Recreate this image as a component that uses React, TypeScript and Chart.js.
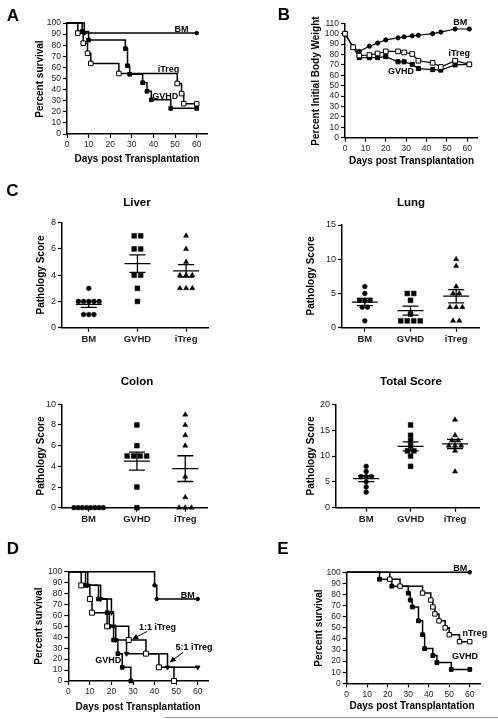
import React, { useEffect, useRef } from "react";
import { Chart, registerables } from "chart.js";
Chart.register(...registerables);

const FONT = "'Liberation Sans', Arial, Helvetica, sans-serif";
const PAGE_W = 498;
const PAGE_H = 719;

// ---------- Panel A : survival ----------
const A_BM_DAYS = [0, 8, 60];
const A_BM_SURV = [100, 90.9, 90.9];
const A_GVHD_DAYS = [0, 7, 10, 27, 28, 29, 35, 37, 39, 48, 60];
const A_GVHD_SURV = [100, 92.3, 84.6, 76.9, 61.5, 53.8, 46.2, 38.5, 30.8, 23.1, 23.1];
const A_ITREG_DAYS = [0, 5, 7.5, 9.5, 11, 24, 51, 53, 54, 60];
const A_ITREG_SURV = [100, 90.9, 81.8, 72.7, 63.6, 54.5, 45.5, 36.4, 27.3, 27.3];

// ---------- Panel B : body weight ----------
const B_DAYS = [0, 4, 7, 12, 16, 20, 26, 29, 33, 36, 43, 47, 54, 61];
const B_BM = [100, 87, 83, 88, 91, 94, 96, 97, 98, 98.5, 100, 101.5, 104.5, 104.5];
const B_GVHD = [100, 87, 77, 77, 77, 78, 73, 73, 70.5, 66.5, 65.5, 65, 70, 70.5];
const B_ITREG = [100, 87, 79, 79.5, 81, 83, 83, 82, 80.5, 74, 72, 68, 74, 70.5];

// ---------- Panel C : pathology scores ----------
const GROUPS = ["BM", "GVHD", "iTreg"];
const LIVER_BM = [3, 2, 2, 2, 2, 2, 1, 1, 1];
const LIVER_GVHD = [7, 7, 6, 6, 4, 4, 3, 2];
const LIVER_ITREG = [7, 6, 5, 4, 4, 4, 3, 3, 3];
const LUNG_BM = [6, 5, 4, 4, 4, 3, 3, 1];
const LUNG_GVHD = [5, 5, 4, 2, 1, 1, 1, 1];
const LUNG_ITREG = [10, 9, 6, 5, 5, 3, 3, 3, 1, 1];
const COLON_BM = [0, 0, 0, 0, 0, 0, 0, 0];
const COLON_GVHD = [8, 6, 5, 5, 5, 5, 2, 0];
const COLON_ITREG = [9, 8, 7, 6, 3, 1, 0, 0, 0];
const TOTAL_BM = [8, 7, 6, 6, 6, 5, 4, 3];
const TOTAL_GVHD = [16, 14, 13, 12, 11, 11, 10, 8];
const TOTAL_ITREG = [17, 14, 13, 13, 12, 12, 12, 11, 7];

// ---------- Panel D : survival ----------
const D_BM_DAYS = [0, 40, 41, 60];
const D_BM_SURV = [100, 87.5, 75, 75];
const D_GVHD_DAYS = [0, 8, 14, 18, 19, 21, 23, 25, 29];
const D_GVHD_SURV = [100, 87.5, 75, 62.5, 50, 37.5, 25, 12.5, 0];
const D_IT11_DAYS = [0, 6, 10, 11, 18, 28, 36, 42, 49];
const D_IT11_SURV = [100, 87.5, 75, 62.5, 50, 37.5, 25, 12.5, 0];
const D_IT51_DAYS = [0, 9, 15, 20, 21, 22, 27, 46, 60];
const D_IT51_SURV = [100, 87.5, 75, 62.5, 50, 37.5, 25, 12.5, 12.5];

// ---------- Panel E : survival ----------
const E_BM_DAYS = [0, 60];
const E_BM_SURV = [100, 100];
const E_GVHD_DAYS = [0, 16, 22, 30, 31, 32, 35, 37, 38, 42, 44, 51, 60];
const E_GVHD_SURV = [100, 93.75, 87.5, 81.25, 75, 68.75, 56.25, 43.75, 31.25, 25, 18.75, 12.5, 12.5];
const E_NTREG_DAYS = [0, 21, 26, 37, 41, 42, 43, 45, 48, 50, 55, 60];
const E_NTREG_SURV = [100, 93.75, 87.5, 81.25, 75, 68.75, 62.5, 56.25, 50, 43.75, 37.5, 37.5];

// ---------- tick lists ----------
const DAY_TICKS = [0, 10, 20, 30, 40, 50, 60];
const PCT_TICKS = [0, 10, 20, 30, 40, 50, 60, 70, 80, 90, 100];
const WEIGHT_TICKS = [0, 10, 20, 30, 40, 50, 60, 70, 80, 90, 100, 110];
const GROUP_TICKS = [1, 2, 3];
const LIVER_TICKS = [0, 2, 4, 6, 8];
const LUNG_TICKS = [0, 5, 10, 15];
const COLON_TICKS = [0, 2, 4, 6, 8, 10];
const TOTAL_TICKS = [0, 5, 10, 15, 20];

type Area = { l: number; t: number; r: number; b: number };
type Note = { text: string; x: number; y: number };
type Arrow = { x1: number; y1: number; x2: number; y2: number };

const WY = 30;
const HX = 18;

const tickFont = { family: FONT, size: 8.5 };
const tickFontC = { family: FONT, size: 9 };
const catFont = { family: FONT, size: 9.5, weight: "bold" as const };

function mean(a: number[]) {
  return a.reduce((s, v) => s + v, 0) / a.length;
}
function sem(a: number[]) {
  const m = mean(a);
  const v = a.reduce((s, x) => s + (x - m) * (x - m), 0) / (a.length - 1);
  return Math.sqrt(v / a.length);
}

function axis(min: number, max: number, ticks: number[], isX: boolean, font: any, labels?: string[]) {
  return {
    type: "linear",
    min,
    max,
    afterBuildTicks: (s: any) => {
      s.ticks = ticks.map((v) => ({ value: v }));
    },
    afterFit: (s: any) => {
      if (isX) s.height = HX;
      else s.width = WY;
    },
    grid: {
      display: true,
      drawOnChartArea: false,
      drawTicks: true,
      tickLength: 4,
      tickWidth: 1.2,
      tickColor: "#000",
    },
    border: { display: true, color: "#000", width: 1.5 },
    ticks: {
      autoSkip: false,
      maxRotation: 0,
      padding: 2,
      color: "#1a1a1a",
      font,
      callback: (v: any) => (labels ? labels[Number(v) - 1] ?? "" : String(v)),
    },
  };
}

function overlay(notes: Note[], arrows: Arrow[], groups: number[][] | null) {
  return {
    id: "overlay",
    afterDatasetsDraw(chart: any) {
      const ctx = chart.ctx as CanvasRenderingContext2D;
      const xs = chart.scales.x;
      const ys = chart.scales.y;
      ctx.save();
      ctx.strokeStyle = "#000";
      ctx.fillStyle = "#000";
      if (groups) {
        ctx.lineWidth = 1.3;
        groups.forEach((vals, i) => {
          const m = mean(vals);
          const s = sem(vals);
          const cx = xs.getPixelForValue(i + 1);
          const ym = ys.getPixelForValue(m);
          const yt = ys.getPixelForValue(m + s);
          const yb = ys.getPixelForValue(m - s);
          ctx.beginPath();
          ctx.moveTo(cx - 13, ym);
          ctx.lineTo(cx + 13, ym);
          ctx.moveTo(cx - 8, yt);
          ctx.lineTo(cx + 8, yt);
          ctx.moveTo(cx - 8, yb);
          ctx.lineTo(cx + 8, yb);
          ctx.moveTo(cx, yt);
          ctx.lineTo(cx, yb);
          ctx.stroke();
        });
      }
      ctx.font = `bold 9px ${FONT}`;
      ctx.textAlign = "center";
      ctx.textBaseline = "middle";
      notes.forEach((n) => {
        ctx.fillText(n.text, xs.getPixelForValue(n.x), ys.getPixelForValue(n.y));
      });
      ctx.lineWidth = 1;
      arrows.forEach((a) => {
        const x1 = xs.getPixelForValue(a.x1);
        const y1 = ys.getPixelForValue(a.y1);
        const x2 = xs.getPixelForValue(a.x2);
        const y2 = ys.getPixelForValue(a.y2);
        const ang = Math.atan2(y2 - y1, x2 - x1);
        ctx.beginPath();
        ctx.moveTo(x1, y1);
        ctx.lineTo(x2 - Math.cos(ang) * 4, y2 - Math.sin(ang) * 4);
        ctx.stroke();
        ctx.beginPath();
        ctx.moveTo(x2, y2);
        ctx.lineTo(x2 - Math.cos(ang) * 6 - Math.sin(ang) * 2.8, y2 - Math.sin(ang) * 6 + Math.cos(ang) * 2.8);
        ctx.lineTo(x2 - Math.cos(ang) * 6 + Math.sin(ang) * 2.8, y2 - Math.sin(ang) * 6 - Math.cos(ang) * 2.8);
        ctx.closePath();
        ctx.fill();
      });
      ctx.restore();
    },
  };
}

function padFor(a: Area) {
  return { left: a.l - WY, top: a.t, right: PAGE_W - a.r, bottom: PAGE_H - a.b - HX };
}

function baseOptions(area: Area, scales: any) {
  return {
    responsive: false,
    animation: false,
    events: [],
    layout: { padding: padFor(area) },
    plugins: { legend: { display: false }, tooltip: { enabled: false }, title: { display: false } },
    scales,
  };
}

function km(days: number[], surv: number[], style: string, fill: string, r: number, rot = 0, order = 0) {
  return {
    data: days.map((d, i) => ({ x: d, y: surv[i] })),
    stepped: true,
    borderColor: "#000",
    borderWidth: 1.5,
    pointRadius: days.map((_, i) => (i === 0 ? 0 : r)),
    pointStyle: style,
    pointRotation: rot,
    pointBackgroundColor: fill,
    pointBorderColor: "#000",
    pointBorderWidth: 1,
    clip: false,
    order,
  };
}

function weightLine(vals: number[], style: string, fill: string, r: number, order: number) {
  return {
    data: B_DAYS.map((d, i) => ({ x: d, y: vals[i] })),
    borderColor: "#000",
    borderWidth: 1.2,
    pointRadius: r,
    pointStyle: style,
    pointBackgroundColor: fill,
    pointBorderColor: "#000",
    pointBorderWidth: 1,
    clip: false,
    order,
  };
}

function dots(vals: number[], center: number, unitPx: number, style: string, r: number, sp: number, rot = 0) {
  const counts = new Map<number, number>();
  vals.forEach((v) => counts.set(v, (counts.get(v) || 0) + 1));
  const seen = new Map<number, number>();
  const pts = vals.map((v) => {
    const n = counts.get(v)!;
    const j = seen.get(v) || 0;
    seen.set(v, j + 1);
    const s = n > 5 ? 4.2 : sp;
    return { x: center + ((j - (n - 1) / 2) * s) / unitPx, y: v };
  });
  return {
    data: pts,
    pointStyle: style,
    pointRadius: r,
    pointRotation: rot,
    pointBackgroundColor: "#000",
    pointBorderColor: "#000",
    pointBorderWidth: 0.5,
    clip: false,
  };
}

function survivalChart(canvas: HTMLCanvasElement, area: Area, datasets: any[], notes: Note[], arrows: Arrow[]) {
  return new Chart(canvas, {
    type: "line",
    data: { datasets },
    options: baseOptions(area, {
      x: axis(0, 65, DAY_TICKS, true, tickFont),
      y: axis(0, 100, PCT_TICKS, false, tickFont),
    }) as any,
    plugins: [overlay(notes, arrows, null) as any],
  });
}

function dotChart(
  canvas: HTMLCanvasElement,
  area: Area,
  xmin: number,
  xmax: number,
  ymax: number,
  yticks: number[],
  groups: number[][]
) {
  const unitPx = (area.r - area.l) / (xmax - xmin);
  return new Chart(canvas, {
    type: "scatter",
    data: {
      datasets: [
        dots(groups[0], 1, unitPx, "circle", 2.4, 5.2),
        dots(groups[1], 2, unitPx, "rect", 3.4, 6.5),
        dots(groups[2], 3, unitPx, "triangle", 3.0, 6.2),
      ],
    },
    options: baseOptions(area, {
      x: axis(xmin, xmax, GROUP_TICKS, true, catFont, GROUPS),
      y: axis(0, ymax, yticks, false, tickFontC),
    }) as any,
    plugins: [overlay([], [], groups) as any],
  });
}

const makers: ((c: HTMLCanvasElement) => Chart)[] = [
  // A
  (c) =>
    survivalChart(
      c,
      { l: 67, t: 23, r: 207.5, b: 134 },
      [
        km(A_ITREG_DAYS, A_ITREG_SURV, "rect", "#fff", 3.2, 0, 0),
        km(A_GVHD_DAYS, A_GVHD_SURV, "rect", "#000", 2.6, 0, 1),
        km(A_BM_DAYS, A_BM_SURV, "circle", "#000", 1.8, 0, 2),
      ],
      [
        { text: "BM", x: 53, y: 94.5 },
        { text: "iTreg", x: 47, y: 58.5 },
        { text: "GVHD", x: 45.5, y: 34 },
      ],
      []
    ),
  // B
  (c) =>
    new Chart(c, {
      type: "line",
      data: {
        datasets: [
          weightLine(B_ITREG, "rect", "#fff", 3.3, 0),
          weightLine(B_GVHD, "rect", "#000", 2.9, 1),
          weightLine(B_BM, "circle", "#000", 2.1, 2),
        ],
      },
      options: baseOptions(
        { l: 345, t: 23.3, r: 477.5, b: 137.7 },
        {
          x: axis(0, 65, DAY_TICKS, true, tickFont),
          y: axis(0, 110, WEIGHT_TICKS, false, tickFont),
        }
      ) as any,
      plugins: [
        overlay(
          [
            { text: "BM", x: 56.5, y: 110.5 },
            { text: "iTreg", x: 56, y: 80.5 },
            { text: "GVHD", x: 27.5, y: 63.5 },
          ],
          [],
          null
        ) as any,
      ],
    }),
  // Liver
  (c) => dotChart(c, { l: 62, t: 222.7, r: 208, b: 327.7 }, 0.45, 3.45, 8, LIVER_TICKS, [LIVER_BM, LIVER_GVHD, LIVER_ITREG]),
  // Lung
  (c) => dotChart(c, { l: 342, t: 225, r: 479, b: 327.7 }, 0.5, 3.5, 15, LUNG_TICKS, [LUNG_BM, LUNG_GVHD, LUNG_ITREG]),
  // Colon
  (c) => dotChart(c, { l: 62, t: 404.3, r: 207, b: 507.7 }, 0.45, 3.45, 10, COLON_TICKS, [COLON_BM, COLON_GVHD, COLON_ITREG]),
  // Total
  (c) => dotChart(c, { l: 336, t: 404.3, r: 479, b: 507.7 }, 0.32, 3.54, 20, TOTAL_TICKS, [TOTAL_BM, TOTAL_GVHD, TOTAL_ITREG]),
  // D
  (c) =>
    survivalChart(
      c,
      { l: 68.3, t: 571.7, r: 208.5, b: 681 },
      [
        km(D_IT11_DAYS, D_IT11_SURV, "rect", "#fff", 3.5, 0, 0),
        km(D_GVHD_DAYS, D_GVHD_SURV, "rect", "#000", 2.6, 0, 1),
        km(D_IT51_DAYS, D_IT51_SURV, "triangle", "#000", 2.6, 180, 2),
        km(D_BM_DAYS, D_BM_SURV, "circle", "#000", 1.8, 0, 3),
      ],
      [
        { text: "BM", x: 55.4, y: 78 },
        { text: "1:1 iTreg", x: 41.4, y: 48.5 },
        { text: "5:1 iTreg", x: 58.3, y: 30.5 },
        { text: "GVHD", x: 18.5, y: 18.6 },
      ],
      [
        { x1: 36.6, y1: 45.4, x2: 29.6, y2: 38.3 },
        { x1: 53.3, y1: 26.3, x2: 47, y2: 17.2 },
      ]
    ),
  // E
  (c) =>
    survivalChart(
      c,
      { l: 346.7, t: 572.3, r: 480, b: 683.3 },
      [
        km(E_NTREG_DAYS, E_NTREG_SURV, "rect", "#fff", 3.1, 0, 0),
        km(E_GVHD_DAYS, E_GVHD_SURV, "rect", "#000", 2.7, 0, 1),
        km(E_BM_DAYS, E_BM_SURV, "circle", "#000", 1.8, 0, 2),
      ],
      [
        { text: "BM", x: 55.4, y: 103.6 },
        { text: "nTreg", x: 62.5, y: 44.5 },
        { text: "GVHD", x: 57.7, y: 24 },
      ],
      []
    ),
];

function ChartCanvas({ make }: { make: (c: HTMLCanvasElement) => Chart }) {
  const ref = useRef<HTMLCanvasElement>(null);
  useEffect(() => {
    const ch = make(ref.current!);
    return () => ch.destroy();
  }, [make]);
  return (
    <canvas
      ref={ref}
      width={PAGE_W}
      height={PAGE_H}
      style={{ position: "absolute", left: 0, top: 0, width: PAGE_W, height: PAGE_H }}
    />
  );
}

function Label({ x, y, text, size, rotate, weight = "bold" }: { x: number; y: number; text: string; size: number; rotate?: boolean; weight?: string }) {
  return (
    <div
      style={{
        position: "absolute",
        left: x,
        top: y,
        transform: `translate(-50%, -50%)${rotate ? " rotate(-90deg)" : ""}`,
        fontFamily: FONT,
        fontSize: size,
        fontWeight: weight as any,
        whiteSpace: "nowrap",
        lineHeight: 1,
        color: "#000",
      }}
    >
      {text}
    </div>
  );
}

export default function App() {
  return (
    <div style={{ position: "absolute", left: 0, top: 0, width: PAGE_W, height: PAGE_H, background: "#fff", overflow: "hidden" }}>
      {makers.map((m, i) => (
        <ChartCanvas key={i} make={m} />
      ))}
      <Label x={13} y={15} text="A" size={17} />
      <Label x={284} y={14} text="B" size={17} />
      <Label x={12.5} y={190} text="C" size={17} />
      <Label x={13} y={548} text="D" size={17} />
      <Label x={283} y={548} text="E" size={17} />

      <Label x={40} y={78.5} text="Percent survival" size={10} rotate />
      <Label x={137} y={159} text="Days post Transplantation" size={10} />
      <Label x={316} y={80.5} text="Percent Initial Body Weight" size={10} rotate />
      <Label x={411.5} y={160.5} text="Days post Transplantation" size={10} />

      <Label x={137} y={203} text="Liver" size={11.5} />
      <Label x={411} y={203} text="Lung" size={11.5} />
      <Label x={137} y={382} text="Colon" size={11.5} />
      <Label x={411} y={382} text="Total Score" size={11.5} />
      <Label x={41} y={275} text="Pathology Score" size={10} rotate />
      <Label x={311} y={276} text="Pathology Score" size={10} rotate />
      <Label x={41} y={456} text="Pathology Score" size={10} rotate />
      <Label x={311} y={456} text="Pathology Score" size={10} rotate />

      <Label x={39} y={626} text="Percent survival" size={10} rotate />
      <Label x={138} y={706.5} text="Days post Transplantation" size={10} />
      <Label x={319} y={628} text="Percent survival" size={10} rotate />
      <Label x={412} y={706} text="Days post Transplantation" size={10} />

      <div style={{ position: "absolute", left: 165, top: 717, width: PAGE_W - 165, height: 1, background: "#999" }} />
    </div>
  );
}
